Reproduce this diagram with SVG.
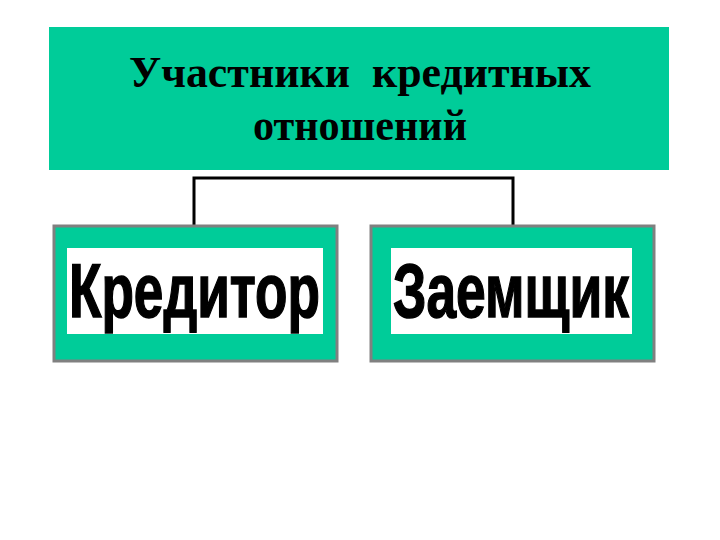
<svg xmlns="http://www.w3.org/2000/svg" width="720" height="540" viewBox="0 0 720 540">
<style>
.title{font-family:"Liberation Serif","Times New Roman",serif;font-weight:bold;font-size:44px;fill:#000}
.outer{fill:#00CC99;stroke:#808080;stroke-width:3}
.inner{fill:#FFFFFF}
.lbl{font-family:"Liberation Sans",Arial,sans-serif;font-weight:bold;font-size:76px;fill:#000;stroke:#000;stroke-width:1.5}
.conn{fill:none;stroke:#000;stroke-width:3}
</style>
<rect width="720" height="540" fill="#FFFFFF"/>
<g id="title">
<rect x="49" y="27" width="620" height="143" fill="#00CC99"/>
<text class="title" x="129" y="87" textLength="462" lengthAdjust="spacingAndGlyphs" xml:space="preserve">Участники  кредитных</text>
<text class="title" x="253" y="140" textLength="214" lengthAdjust="spacingAndGlyphs">отношений</text>
</g>
<g id="connectors">
<polyline class="conn" points="194,226 194,178 513,178 513,226"/>
</g>
<g id="creditor">
<rect class="outer" x="54" y="226" width="283" height="135"/>
<rect class="inner" x="67" y="248" width="256" height="86"/>
<text class="lbl" x="69" y="317" textLength="251" lengthAdjust="spacingAndGlyphs">Кредитор</text>
</g>
<g id="borrower">
<rect class="outer" x="371" y="226" width="283" height="135"/>
<rect class="inner" x="391" y="248" width="241" height="86"/>
<text class="lbl" x="393" y="317" textLength="236" lengthAdjust="spacingAndGlyphs">Заемщик</text>
</g>
</svg>
